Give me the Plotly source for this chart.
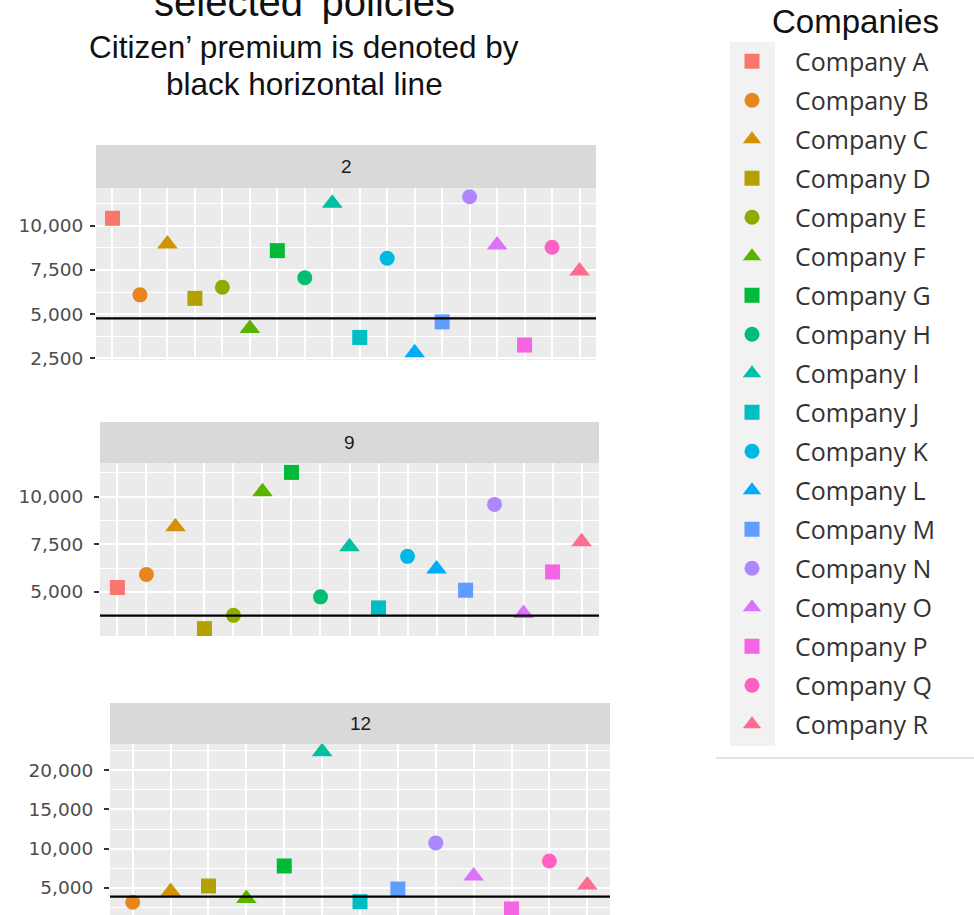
import plotly.graph_objects as go

# ---------------- data ----------------
companies = ["Company A", "Company B", "Company C", "Company D", "Company E", "Company F",
             "Company G", "Company H", "Company I", "Company J", "Company K", "Company L",
             "Company M", "Company N", "Company O", "Company P", "Company Q", "Company R"]

policy_labels = ["2", "9", "12"]

# premium per company for each selected policy (None = not offered)
premium_policy_2 = [10420, 6090, 8970, 5890, 6520, 4190, 8590, 7060, 11270,
                    3680, 8160, 2820, 4560, 11640, 8910, 3250, 8780, 7440]
premium_policy_9 = [5230, 5920, 8430, 3070, 3770, 10260, 11280, 4740, 7370,
                    4160, 6870, 6200, 5090, 9600, 3870, 6050, None, 7640]
premium_policy_12 = [None, 3180, 4550, 5250, None, 3650, 7800, None, 22330,
                     3260, None, None, 4870, 10730, 6530, 2330, 8440, 5380]

citizen_premium = [4755, 3750, 3900]

y_tick_steps = [2500, 2500, 5000]

# ---------------- style ----------------
colors = ["#F8766D", "#E7851E", "#D09400", "#B2A100", "#8EAB00", "#5BB300",
          "#00BA38", "#00BF74", "#00C1A3", "#00BFC4", "#00B9E3", "#00ADFA",
          "#619CFF", "#AE87FF", "#DB72FB", "#F564E3", "#FF61C3", "#FF6C91"]
symbol_cycle = ["square", "circle", "triangle-up"]

W, H = 974, 915

def px_x(p):
    return p / W

def px_y(p):
    return 1 - p / H

# panel geometry in pixels: (x0, x1, plot_top, plot_bottom, strip_top)
panels = [
    (96, 596, 188, 360, 145),
    (100, 599, 463, 636, 422),
    (110, 610, 744, 915, 703),
]
label_standoff = [3, 7, 7]
y_ranges = [[2404, 12132], [2684, 11774], [1565, 23308]]

series = [premium_policy_2, premium_policy_9, premium_policy_12]

fig = go.Figure()

for pi, vals in enumerate(series):
    xa = "x" if pi == 0 else f"x{pi + 1}"
    ya = "y" if pi == 0 else f"y{pi + 1}"
    for ci, comp in enumerate(companies):
        v = vals[ci]
        if v is None:
            continue
        sym = symbol_cycle[ci % 3]
        fig.add_trace(go.Scatter(
            x=[comp], y=[v], mode="markers", name=comp,
            legendgroup=comp, showlegend=(pi == 0),
            xaxis=xa, yaxis=ya,
            marker=dict(color=colors[ci], symbol=sym,
                        size=18 if sym == "triangle-up" else 15,
                        line=dict(width=0)),
            hoverinfo="name+y",
        ))

layout_axes = {}
shapes = []
annotations = []
for pi, vals in enumerate(series):
    x0, x1, pt, pb, st = panels[pi]
    cats = [c for c, v in zip(companies, vals) if v is not None]
    n = len(cats)
    xk = "xaxis" if pi == 0 else f"xaxis{pi + 1}"
    yk = "yaxis" if pi == 0 else f"yaxis{pi + 1}"
    xa = "x" if pi == 0 else f"x{pi + 1}"
    ya = "y" if pi == 0 else f"y{pi + 1}"
    layout_axes[xk] = dict(
        domain=[px_x(x0), px_x(x1)], anchor=ya, type="category",
        categoryorder="array", categoryarray=cats,
        range=[-0.6, n - 1 + 0.6],
        showticklabels=False, ticks="", showgrid=True,
        gridcolor="white", gridwidth=1.6, zeroline=False, showline=False,
        fixedrange=True,
    )
    step = y_tick_steps[pi]
    layout_axes[yk] = dict(
        domain=[px_y(pb), px_y(pt)], anchor=xa,
        range=y_ranges[pi], tick0=0, dtick=step, tickformat=",d",
        ticks="outside", ticklen=5, tickwidth=1.6, tickcolor="#333333",
        ticklabelstandoff=label_standoff[pi],
        tickfont=dict(family="DejaVu Sans", size=18.5, color="#4D4D4D"),
        showgrid=True, gridcolor="white", gridwidth=1.6,
        minor=dict(tick0=0, dtick=step / 2, showgrid=True,
                   gridcolor="white", gridwidth=0.8),
        zeroline=False, showline=False, fixedrange=True,
    )
    # facet strip
    shapes.append(dict(type="rect", xref="paper", yref="paper",
                       x0=px_x(x0), x1=px_x(x1), y0=px_y(pt), y1=px_y(st),
                       fillcolor="#D9D9D9", line=dict(width=0), layer="below"))
    annotations.append(dict(xref="paper", yref="paper",
                            x=px_x((x0 + x1) / 2), y=px_y((pt + st) / 2),
                            text=policy_labels[pi], showarrow=False,
                            xanchor="center", yanchor="middle",
                            font=dict(family="Liberation Sans", size=19, color="#1A1A1A")))
    # citizen premium line
    shapes.append(dict(type="line", xref=f"{xa} domain", yref=ya,
                       x0=0, x1=1, y0=citizen_premium[pi], y1=citizen_premium[pi],
                       line=dict(color="black", width=2.2), layer="above"))

# legend key background and bottom rule
shapes.append(dict(type="rect", xref="paper", yref="paper",
                   x0=px_x(730), x1=px_x(775), y0=px_y(746), y1=px_y(42),
                   fillcolor="#F2F2F2", line=dict(width=0), layer="below"))
shapes.append(dict(type="line", xref="paper", yref="paper",
                   x0=px_x(716), x1=1, y0=px_y(758), y1=px_y(758),
                   line=dict(color="#E3E3E3", width=2)))

# titles
annotations.append(dict(xref="paper", yref="paper", x=px_x(304), y=px_y(26),
                        text="selected’ policies", showarrow=False,
                        xanchor="center", yanchor="bottom",
                        font=dict(family="Liberation Sans", size=40, color="#111111")))
annotations.append(dict(xref="paper", yref="paper", x=px_x(304), y=px_y(47),
                        text="Citizen’ premium is denoted by", showarrow=False,
                        xanchor="center", yanchor="middle",
                        font=dict(family="Liberation Sans", size=31.5, color="#111111")))
annotations.append(dict(xref="paper", yref="paper", x=px_x(304), y=px_y(84),
                        text="black horizontal line", showarrow=False,
                        xanchor="center", yanchor="middle",
                        font=dict(family="Liberation Sans", size=31.5, color="#111111")))
annotations.append(dict(xref="paper", yref="paper", x=px_x(855), y=px_y(22),
                        text="Companies", showarrow=False,
                        xanchor="center", yanchor="middle",
                        font=dict(family="Liberation Sans", size=33, color="#111111")))

fig.update_layout(
    width=W, height=H,
    margin=dict(l=0, r=0, t=0, b=0, autoexpand=False),
    paper_bgcolor="white", plot_bgcolor="#EBEBEB",
    shapes=shapes, annotations=annotations,
    legend=dict(x=px_x(709), y=px_y(38.5), xanchor="left", yanchor="top",
                bgcolor="rgba(0,0,0,0)", borderwidth=0,
                font=dict(family="Open Sans", size=25, color="#333333"),
                tracegroupgap=3.5, itemsizing="trace", itemwidth=76),
    showlegend=True,
    **layout_axes,
)

fig.write_html("out.html", config={"displayModeBar": False},
               post_script="document.body.style.margin='0px';")
